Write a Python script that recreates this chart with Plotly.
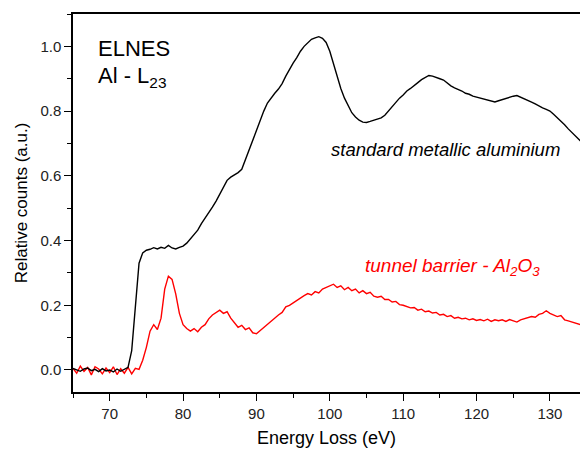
import numpy as np
import plotly.graph_objects as go

# Energy grid (eV), 0.5 eV steps
energy = np.arange(65.0, 135.0, 0.5)

# standard metallic aluminium (black)
metal = [
    0.005, 0.000, -0.004, 0.003, 0.006, -0.002, 0.002, -0.005, 0.004, -0.003,
    0.000, -0.006, 0.003, -0.004, 0.002, 0.008, 0.060, 0.200, 0.330, 0.362,
    0.370, 0.373, 0.378, 0.374, 0.379, 0.376, 0.385, 0.377, 0.374, 0.379,
    0.383, 0.392, 0.405, 0.420, 0.432, 0.452, 0.468, 0.487, 0.503, 0.522,
    0.543, 0.566, 0.586, 0.596, 0.603, 0.610, 0.620, 0.650, 0.685, 0.715,
    0.745, 0.772, 0.800, 0.825, 0.842, 0.855, 0.868, 0.885, 0.908, 0.930,
    0.948, 0.965, 0.985, 1.000, 1.012, 1.022, 1.026, 1.030, 1.025, 1.012,
    0.985, 0.945, 0.910, 0.870, 0.840, 0.815, 0.795, 0.782, 0.772, 0.766,
    0.765, 0.768, 0.772, 0.776, 0.779, 0.787, 0.800, 0.812, 0.828, 0.840,
    0.850, 0.862, 0.870, 0.878, 0.888, 0.897, 0.903, 0.910, 0.908, 0.905,
    0.900, 0.896, 0.886, 0.878, 0.872, 0.868, 0.862, 0.855, 0.852, 0.846,
    0.843, 0.840, 0.838, 0.834, 0.830, 0.828, 0.832, 0.836, 0.838, 0.842,
    0.846, 0.848, 0.843, 0.840, 0.834, 0.828, 0.822, 0.815, 0.810, 0.805,
    0.800, 0.790, 0.780, 0.768, 0.758, 0.745, 0.734, 0.722, 0.712, 0.700,
]

# tunnel barrier Al2O3 (red)
barrier = [
    0.005, -0.010, 0.012, -0.004, 0.008, -0.015, 0.010, 0.003, -0.012, 0.006,
    -0.008, 0.010, -0.014, 0.004, -0.010, 0.008, -0.012, 0.005, 0.002, 0.030,
    0.070, 0.120, 0.140, 0.125, 0.160, 0.250, 0.290, 0.280, 0.235, 0.175,
    0.140, 0.128, 0.120, 0.128, 0.118, 0.132, 0.140, 0.158, 0.170, 0.178,
    0.185, 0.175, 0.180, 0.160, 0.145, 0.132, 0.138, 0.125, 0.130, 0.115,
    0.112, 0.122, 0.130, 0.142, 0.150, 0.160, 0.170, 0.178, 0.195, 0.200,
    0.208, 0.215, 0.222, 0.230, 0.236, 0.232, 0.242, 0.238, 0.250, 0.255,
    0.258, 0.265, 0.255, 0.260, 0.248, 0.255, 0.245, 0.250, 0.238, 0.245,
    0.236, 0.240, 0.228, 0.225, 0.228, 0.218, 0.218, 0.210, 0.212, 0.202,
    0.200, 0.196, 0.192, 0.193, 0.185, 0.188, 0.180, 0.182, 0.176, 0.178,
    0.170, 0.172, 0.165, 0.168, 0.160, 0.163, 0.158, 0.160, 0.155, 0.158,
    0.153, 0.156, 0.152, 0.157, 0.150, 0.155, 0.152, 0.155, 0.150, 0.156,
    0.152, 0.148, 0.155, 0.158, 0.160, 0.165, 0.163, 0.172, 0.175, 0.183,
    0.175, 0.170, 0.165, 0.168, 0.155, 0.152, 0.148, 0.145, 0.142, 0.138,
]

assert len(metal) == len(energy) == len(barrier)

FONT = "Liberation Sans, Arial, sans-serif"

fig = go.Figure()
fig.add_trace(go.Scatter(x=energy, y=barrier, mode="lines",
                         line=dict(color="#ff0000", width=1.4), showlegend=False))
fig.add_trace(go.Scatter(x=energy, y=metal, mode="lines",
                         line=dict(color="#000000", width=1.4), showlegend=False))

fig.add_annotation(x=68.2, y=0.994, xref="x", yref="y", text="ELNES",
                   showarrow=False, xanchor="left", yanchor="middle",
                   font=dict(family=FONT, size=22, color="#000"))
fig.add_annotation(x=68.2, y=0.905, xref="x", yref="y", text="Al - L<sub>23</sub>",
                   showarrow=False, xanchor="left", yanchor="middle",
                   font=dict(family=FONT, size=22, color="#000"))
fig.add_annotation(x=115.8, y=0.68, xref="x", yref="y",
                   text="<i>standard metallic aluminium</i>",
                   showarrow=False, xanchor="center", yanchor="middle",
                   font=dict(family=FONT, size=18.5, color="#000"))
fig.add_annotation(x=116.7, y=0.318, xref="x", yref="y",
                   text="<i>tunnel barrier - Al<sub>2</sub>O<sub>3</sub></i>",
                   showarrow=False, xanchor="center", yanchor="middle",
                   font=dict(family=FONT, size=19, color="#ff0000"))

fig.update_layout(
    width=580, height=450,
    margin=dict(l=73, r=0, t=14, b=58),
    paper_bgcolor="white", plot_bgcolor="white",
    font=dict(family=FONT, color="#000"),
    xaxis=dict(
        range=[65, 134.1], tick0=70, dtick=10, ticks="outside", ticklen=7,
        tickwidth=1.3, tickcolor="#000", showline=True, linecolor="#000",
        linewidth=1.5, mirror=True, showgrid=False, zeroline=False,
        tickfont=dict(family=FONT, size=15, color="#222"),
        minor=dict(dtick=5, tick0=65, ticks="outside", ticklen=4, tickcolor="#000", tickwidth=1.2),
        title=dict(text="Energy Loss (eV)", font=dict(family=FONT, size=18, color="#000"), standoff=11),
    ),
    yaxis=dict(
        range=[-0.068, 1.1], tick0=0, dtick=0.2, tickformat=".1f", ticks="outside", ticklen=7,
        tickwidth=1.3, tickcolor="#000", showline=True, linecolor="#000",
        linewidth=1.5, mirror=False, showgrid=False, zeroline=False,
        tickfont=dict(family=FONT, size=15, color="#222"),
        minor=dict(dtick=0.1, tick0=0, ticks="outside", ticklen=4, tickcolor="#000", tickwidth=1.2),
        title=dict(text="Relative counts (a.u.)", font=dict(family=FONT, size=17, color="#000"), standoff=8),
    ),
)

fig.write_html("out.html")
